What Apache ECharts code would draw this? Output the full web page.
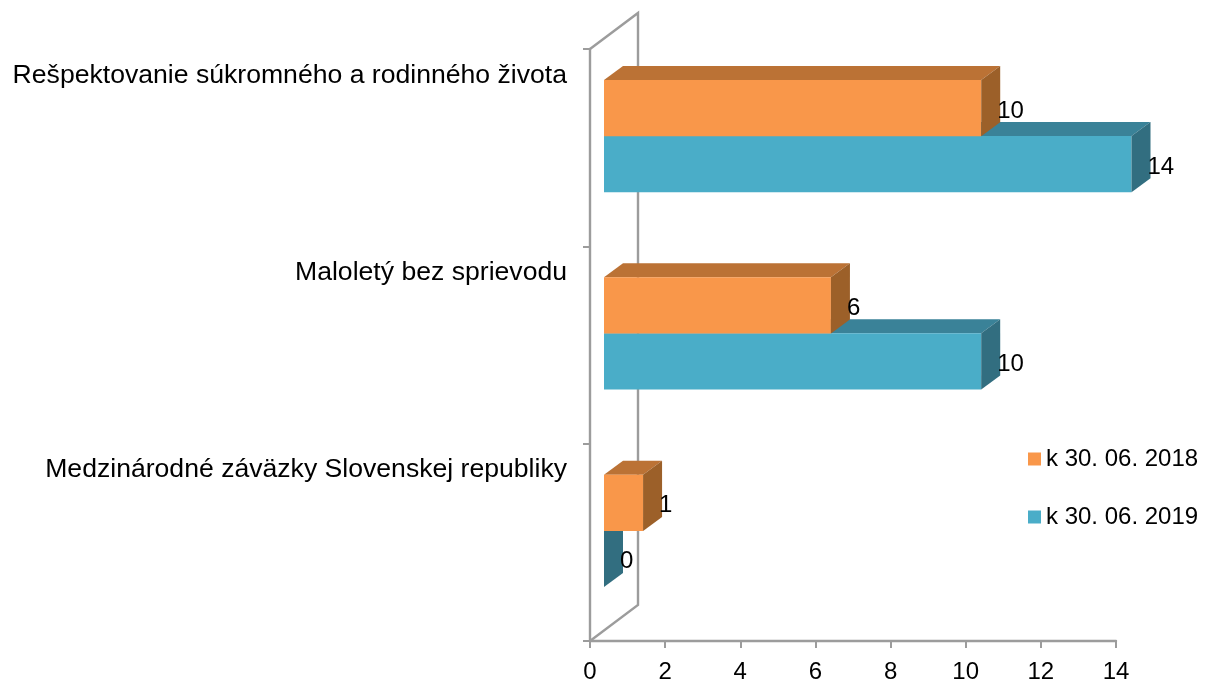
<!DOCTYPE html>
<html>
<head>
<meta charset="utf-8">
<style>html,body{margin:0;padding:0;background:#fff}#chart{width:1211px;height:686px}</style>
<script src="https://cdn.jsdelivr.net/npm/echarts@6/dist/echarts.min.js"></script>
</head>
<body>
<div id="chart"></div>
<script>
const categories = [
  'Rešpektovanie súkromného a rodinného života',
  'Maloletý bez sprievodu',
  'Medzinárodné záväzky Slovenskej republiky'
];
const values2018 = [10, 6, 1];
const values2019 = [14, 10, 0];
const xTicks = [0, 2, 4, 6, 8, 10, 12, 14];

const DX = 19, DY = 14;          // oblique depth of the 3d look
const FRONT = 14;                // bars start this far right of the axis
const FONT = 'Liberation Sans, Arial, sans-serif';
const LINE = '#9c9c9c';

function wallItem(params, api) {
  const cs = params.coordSys;
  const x = cs.x, top = cs.y, bot = cs.y + cs.height;
  return {
    type: 'polyline',
    silent: true,
    shape: { points: [[x, top], [x + 48, top - 36], [x + 48, bot - 36], [x, bot]] },
    style: { fill: 'none', stroke: LINE, lineWidth: 2.4 }
  };
}

function barItem(top, front, topFace, side) {
  return function (params, api) {
    const p = api.coord([api.value(0), api.value(1)]);
    const p0 = api.coord([0, api.value(1)]);
    const band = api.size([0, 1])[1];
    const h = band * 0.285;
    const y0 = p[1] + band * top;
    const y1 = y0 + h;
    const x0 = p0[0] + FRONT;
    const x1 = api.value(0) === 0 ? x0 : p[0] + FRONT + 1.5;
    const kids = [];
    if (x1 > x0) {
      kids.push({ type: 'polygon', shape: { points: [[x0, y0], [x0 + DX, y0 - DY], [x1 + DX, y0 - DY], [x1, y0]] }, style: { fill: topFace } });
      kids.push({ type: 'rect', shape: { x: x0, y: y0, width: x1 - x0, height: h }, style: { fill: front } });
    }
    kids.push({ type: 'polygon', shape: { points: [[x1, y0], [x1 + DX, y0 - DY], [x1 + DX, y1 - DY], [x1, y1]] }, style: { fill: side } });
    kids.push({
      type: 'text',
      style: { x: x1 + 16, y: y0 + h / 2 + 3, text: String(api.value(0)), font: '24px ' + FONT, fill: '#000', align: 'left', verticalAlign: 'middle' }
    });
    return { type: 'group', children: kids };
  };
}

const chart = echarts.init(document.getElementById('chart'), null, { renderer: 'canvas' });
chart.setOption({
  animation: false,
  backgroundColor: '#fff',
  grid: { left: 590, right: 95, top: 49, bottom: 45, containLabel: false, outerBoundsMode: 'none' },
  legend: {
    orient: 'vertical',
    left: 1028,
    top: 447,
    padding: 0,
    itemWidth: 13,
    itemHeight: 13,
    itemGap: 34,
    icon: 'rect',
    data: ['k 30. 06. 2018', 'k 30. 06. 2019'],
    textStyle: { fontFamily: FONT, fontSize: 24, color: '#000' }
  },
  xAxis: {
    type: 'value',
    min: 0,
    max: 14,
    interval: 2,
    splitLine: { show: false },
    axisLine: { show: true, lineStyle: { color: LINE, width: 2.4 } },
    axisTick: { show: true, length: 7, lineStyle: { color: LINE, width: 2 } },
    axisLabel: { fontFamily: FONT, fontSize: 24, color: '#000', margin: 19,
      formatter: v => xTicks.includes(v) ? String(v) : '' }
  },
  yAxis: {
    type: 'category',
    inverse: true,
    data: categories,
    axisLine: { show: true, lineStyle: { color: LINE, width: 2.4 } },
    axisTick: { show: true, length: 7, lineStyle: { color: LINE, width: 2 } },
    axisLabel: { fontFamily: FONT, fontSize: 26.6, color: '#000', margin: 23, lineHeight: 145, interval: 0,
      formatter: v => v + '\n ' }
  },
  series: [
    {
      name: 'wall', type: 'custom', z: 1, silent: true,
      encode: { x: 0, y: 1 },
      data: [[0, 0]],
      renderItem: wallItem
    },
    {
      name: 'k 30. 06. 2018', type: 'custom', z: 3,
      itemStyle: { color: '#f9974a' },
      encode: { x: 0, y: 1 },
      data: values2018.map((v, i) => [v, i]),
      renderItem: barItem(-0.343, '#f9974a', '#bb7235', '#9c6029')
    },
    {
      name: 'k 30. 06. 2019', type: 'custom', z: 2,
      itemStyle: { color: '#4aadc8' },
      encode: { x: 0, y: 1 },
      data: values2019.map((v, i) => [v, i]),
      renderItem: barItem(-0.059, '#4aadc8', '#3a8298', '#326e80')
    }
  ]
});
</script>
</body>
</html>
